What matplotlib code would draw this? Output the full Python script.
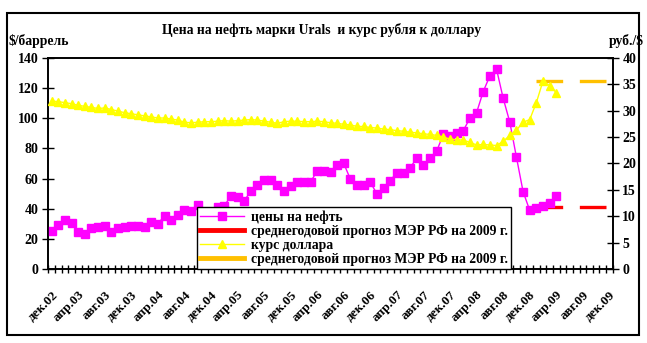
import matplotlib
matplotlib.use("Agg")
import matplotlib.pyplot as plt
from matplotlib.patches import Rectangle
from matplotlib.lines import Line2D
from matplotlib.transforms import ScaledTranslation

# monthly data, Dec 2002 .. Apr 2009 (axis runs to Dec 2009)
oil_price = [25.5, 29.5, 32.5, 30.5, 25.0, 23.5, 27.5, 28.0, 28.5, 25.0, 27.5, 28.0,
             28.5, 28.7, 28.0, 31.0, 30.0, 35.5, 32.5, 36.0, 39.5, 38.5, 42.5, 38.0,
             35.0, 41.0, 42.0, 48.5, 48.0, 45.5, 51.5, 55.5, 59.0, 58.8, 55.5, 51.8,
             55.0, 58.0, 57.6, 57.8, 65.2, 65.0, 64.4, 69.3, 70.0, 59.5, 55.5, 55.8,
             57.6, 49.8, 53.6, 58.7, 64.0, 63.6, 67.3, 73.5, 69.2, 73.5, 78.3, 89.4,
             88.5, 90.5, 91.8, 100.0, 103.7, 117.6, 128.0, 132.5, 113.2, 97.4, 74.2, 51.4,
             39.0, 40.5, 42.0, 44.0, 48.5]
usd_rate = [31.8, 31.7, 31.5, 31.3, 31.0, 30.8, 30.6, 30.4, 30.5, 30.2, 29.9, 29.6,
            29.4, 29.2, 29.0, 28.8, 28.6, 28.6, 28.4, 28.2, 27.8, 27.7, 27.8, 27.9,
            27.9, 28.0, 28.1, 28.0, 28.1, 28.2, 28.3, 28.2, 28.0, 27.8, 27.6, 27.9,
            28.0, 28.0, 27.9, 27.9, 28.0, 27.9, 27.7, 27.6, 27.4, 27.3, 27.0, 27.0,
            26.8, 26.7, 26.5, 26.4, 26.2, 26.1, 25.9, 25.8, 25.6, 25.5, 25.3, 25.0,
            24.6, 24.5, 24.4, 24.0, 23.5, 23.6, 23.5, 23.4, 24.2, 25.3, 26.3, 27.8,
            28.3, 31.5, 35.6, 34.7, 33.4]
# MER forecasts for 2009 (Jan..Dec 2009)
oil_forecast = [41] * 12
usd_forecast = [35.5] * 12
forecast_start = 73

n_months = 85
tick_labels = ["дек.02", "апр.03", "авг.03", "дек.03", "апр.04", "авг.04", "дек.04",
               "апр.05", "авг.05", "дек.05", "апр.06", "авг.06", "дек.06", "апр.07",
               "авг.07", "дек.07", "апр.08", "авг.08", "дек.08", "апр.09", "авг.09",
               "дек.09"]

plt.rcParams["font.family"] = ["Liberation Serif", "DejaVu Serif"]
plt.rcParams["font.weight"] = "bold"

fig = plt.figure(figsize=(6.47, 3.43), dpi=100)
ax = fig.add_axes([0.0747, 0.2149, 0.8723, 0.6169])
ax2 = ax.twinx()

x_oil = [i + 0.5 for i in range(len(oil_price))]
x_usd = [i + 0.5 for i in range(len(usd_rate))]
x_fc = [forecast_start + i + 0.5 for i in range(len(oil_forecast))]

ax.plot(x_fc, oil_forecast, color="#FF0000", lw=2.4, ls=(0, (8, 5)), zorder=2,
        dash_capstyle="butt")
ax.plot(x_oil, oil_price, color="#FF00FF", lw=1.0, marker="s", ms=5.5,
        mec="#FF00FF", zorder=3)
ax2.plot(x_usd, usd_rate, color="#FFFF00", lw=1.0, marker="^", ms=5.5,
         mec="#FFFF00", zorder=3)
ax2.plot(x_fc, usd_forecast, color="#FFC000", lw=2.4, ls=(0, (8, 5)), zorder=2,
         dash_capstyle="butt")

ax.set_xlim(0, n_months)
ax.set_ylim(0, 140)
ax2.set_ylim(0, 40)
ax.set_yticks(range(0, 141, 20))
ax2.set_yticks(range(0, 41, 5))

ax.set_xticks(range(0, n_months + 1))
ax.set_xticklabels([])
ax.set_xticks([i + 0.5 for i in range(0, n_months, 4)], minor=True)
ax.set_xticklabels(tick_labels, minor=True, rotation=45, ha="right",
                   rotation_mode="anchor", fontsize=9.5, fontweight="bold")
shift = ScaledTranslation(-6 / 100, 0, fig.dpi_scale_trans)
for lab in ax.get_xticklabels(minor=True):
    lab.set_transform(lab.get_transform() + shift)
ax.tick_params(axis="x", which="major", direction="inout", length=6, width=1)
ax.tick_params(axis="x", which="minor", length=0, pad=14)
ax.tick_params(axis="y", direction="inout", length=8, width=1, labelsize=10, pad=3)
ax2.tick_params(axis="y", direction="inout", length=8, width=1, labelsize=10, pad=3)

for a in (ax, ax2):
    for s in a.spines.values():
        s.set_linewidth(1.2)

handles = [
    Line2D([], [], color="#FF00FF", lw=1.0, marker="s", ms=5.5, mec="#FF00FF"),
    Line2D([], [], color="#FF0000", lw=3.5),
    Line2D([], [], color="#FFFF00", lw=1.0, marker="^", ms=5.5, mec="#FFFF00"),
    Line2D([], [], color="#FFC000", lw=3.5),
]
labels = ["цены на нефть", "среднегодовой прогноз МЭР РФ на 2009 г.",
          "курс доллара", "среднегодовой прогноз МЭР РФ на 2009 г."]
leg = ax2.legend(handles, labels, loc="lower left", bbox_to_anchor=(0.2635, 0.0),
                 borderaxespad=0, fancybox=False, framealpha=1, edgecolor="black",
                 handlelength=3.2, handletextpad=0.5,
                 labelspacing=0.08, borderpad=0.25, prop={"weight": "bold", "size": 9.8})
leg.get_frame().set_linewidth(1.0)
leg.set_zorder(10)

fig.text(0.4977, 0.912, "Цена на нефть марки Urals  и курс рубля к доллару",
         ha="center", va="center", fontsize=9.8, fontweight="bold")
fig.text(0.013, 0.88, "$/баррель", ha="left", va="center", fontsize=9.8,
         fontweight="bold")
fig.text(0.995, 0.88, "руб./$", ha="right", va="center", fontsize=9.8,
         fontweight="bold")

fig.patches.append(Rectangle((0.0108, 0.0233), 0.977, 0.939, transform=fig.transFigure,
                             fill=False, edgecolor="black", lw=1.5))

fig.savefig("out.png", dpi=100)
